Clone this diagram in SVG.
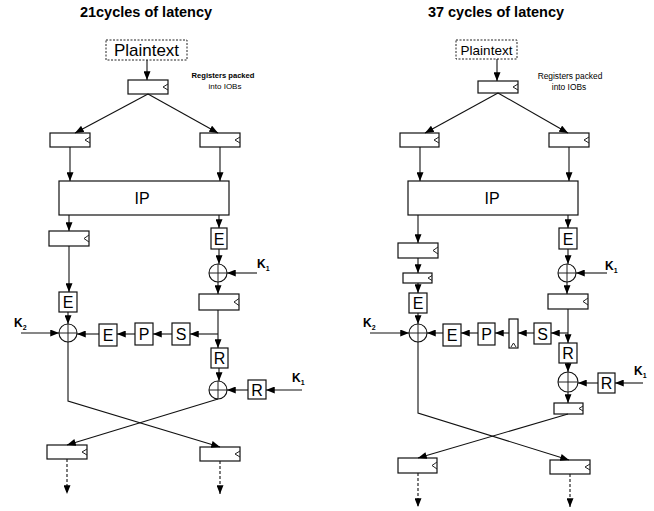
<svg xmlns="http://www.w3.org/2000/svg" width="654" height="511" viewBox="0 0 654 511">
<defs>
<marker id="ah" viewBox="0 0 10 8" refX="10" refY="4" markerWidth="9" markerHeight="7" markerUnits="userSpaceOnUse" orient="auto">
<path d="M0,0 L10,4 L0,8 z" fill="#000"/>
</marker>
<style>
.b{fill:#fff;stroke:#111;stroke-width:1.2}
.d{fill:#fff;stroke:#222;stroke-width:1;stroke-dasharray:2,1.5}
.c{fill:none;stroke:#111;stroke-width:1.1}
.k{fill:none;stroke:#222;stroke-width:1}
.cn line,.cn polyline{fill:none;stroke:#111;stroke-width:1.1;marker-end:url(#ah)}
.cn .n{marker-end:none}
.cn .ds{stroke-dasharray:3,2}
.t{font-family:"Liberation Sans",Arial,sans-serif;fill:#000}
.ttl{font-size:14.5px;font-weight:bold;text-anchor:middle}
.lb{font-size:16px;text-anchor:middle}
.k1{font-size:12px;font-weight:bold}
.sub{font-size:7px}
</style>
</defs>
<rect width="654" height="511" fill="#fff"/>

<!-- titles -->
<text class="t ttl" x="146" y="17">21cycles of latency</text>
<text class="t ttl" x="496" y="17">37 cycles of latency</text>

<!-- ================= LEFT ================= -->
<g id="L-plain"><rect class="d" x="106" y="40" width="81" height="20"/><text class="t" x="146.5" y="56" font-size="17" text-anchor="middle">Plaintext</text></g>
<g id="L-note"><text class="t" x="223" y="78" font-size="7.6" font-weight="bold" text-anchor="middle">Registers packed</text><text class="t" x="225" y="89" font-size="8" text-anchor="middle">into IOBs</text></g>
<g id="L-reg1"><rect class="b" x="128" y="80" width="40" height="14"/><polyline class="k" points="168,84 163,87 168,90"/></g>
<g id="L-reg2a"><rect class="b" x="50" y="133" width="40" height="14"/><polyline class="k" points="90,137 85,140 90,143"/></g>
<g id="L-reg2b"><rect class="b" x="200" y="133" width="40" height="14"/><polyline class="k" points="240,137 235,140 240,143"/></g>
<g id="L-IP"><rect class="b" x="59" y="181" width="170" height="34" stroke-width="1.5"/><text class="t lb" x="142" y="204">IP</text></g>
<g id="L-reg3"><rect class="b" x="49" y="231" width="40" height="15"/><polyline class="k" points="89,235 84,238.5 89,242"/></g>
<g id="L-E1"><rect class="b" x="211" y="228" width="16" height="21"/><text class="t lb" x="219" y="244.5">E</text></g>
<g id="L-X1"><circle class="c" cx="218" cy="273" r="9"/><line class="k" x1="209" y1="273" x2="227" y2="273"/><line class="k" x1="218" y1="264" x2="218" y2="282"/></g>
<g id="L-K1a"><text class="t k1" x="257" y="268">K<tspan class="sub" dy="3">1</tspan></text></g>
<g id="L-reg4"><rect class="b" x="199" y="294" width="40" height="16"/><polyline class="k" points="239,298.5 234,302 239,305.5"/></g>
<g id="L-S"><rect class="b" x="172" y="323" width="18" height="22"/><text class="t lb" x="181" y="340">S</text></g>
<g id="L-P"><rect class="b" x="135" y="323" width="18" height="22"/><text class="t lb" x="144" y="340">P</text></g>
<g id="L-E2"><rect class="b" x="99" y="324" width="18" height="22"/><text class="t lb" x="108" y="341">E</text></g>
<g id="L-E3"><rect class="b" x="59" y="292" width="18" height="20"/><text class="t lb" x="68" y="308">E</text></g>
<g id="L-X2"><circle class="c" cx="68" cy="333" r="9"/><line class="k" x1="59" y1="333" x2="77" y2="333"/><line class="k" x1="68" y1="324" x2="68" y2="342"/></g>
<g id="L-K2"><text class="t k1" x="14" y="327">K<tspan class="sub" dy="3">2</tspan></text></g>
<g id="L-R1"><rect class="b" x="211" y="348" width="17" height="20"/><text class="t lb" x="219.5" y="364">R</text></g>
<g id="L-X3"><circle class="c" cx="218" cy="390" r="9"/><line class="k" x1="209" y1="390" x2="227" y2="390"/><line class="k" x1="218" y1="381" x2="218" y2="399"/></g>
<g id="L-R2"><rect class="b" x="248" y="380" width="18" height="19"/><text class="t lb" x="257" y="396">R</text></g>
<g id="L-K1b"><text class="t k1" x="292" y="382">K<tspan class="sub" dy="3">1</tspan></text></g>
<g id="L-reg5a"><rect class="b" x="47" y="445" width="40" height="14"/><polyline class="k" points="87,449 82,452 87,455"/></g>
<g id="L-reg5b"><rect class="b" x="200" y="447" width="40" height="14"/><polyline class="k" points="240,451 235,454 240,457"/></g>

<!-- ================= RIGHT ================= -->
<g id="R-plain"><rect class="d" x="456" y="40" width="61" height="19"/><text class="t" x="486.5" y="55" font-size="13.5" text-anchor="middle">Plaintext</text></g>
<g id="R-note"><text class="t" x="570" y="79" font-size="8.4" text-anchor="middle">Registers packed</text><text class="t" x="569" y="90" font-size="8.4" text-anchor="middle">into IOBs</text></g>
<g id="R-reg1"><rect class="b" x="478" y="81" width="40" height="12"/><polyline class="k" points="518,84 513,87 518,90"/></g>
<g id="R-reg2a"><rect class="b" x="400" y="133" width="39" height="14"/><polyline class="k" points="439,137 434,140 439,143"/></g>
<g id="R-reg2b"><rect class="b" x="549" y="133" width="40" height="14"/><polyline class="k" points="589,137 584,140 589,143"/></g>
<g id="R-IP"><rect class="b" x="408" y="181" width="170" height="34"/><text class="t lb" x="492" y="204">IP</text></g>
<g id="R-reg3"><rect class="b" x="398" y="243" width="40" height="15"/><polyline class="k" points="438,247 433,250.5 438,254"/></g>
<g id="R-E1"><rect class="b" x="559" y="228" width="18" height="21" stroke-width="1.5"/><text class="t lb" x="568" y="244.5">E</text></g>
<g id="R-X1"><circle class="c" cx="567" cy="273" r="9"/><line class="k" x1="558" y1="273" x2="576" y2="273"/><line class="k" x1="567" y1="264" x2="567" y2="282"/></g>
<g id="R-K1a"><text class="t k1" x="605" y="270" font-weight="normal">K<tspan class="sub" dy="3">1</tspan></text></g>
<g id="R-reg4"><rect class="b" x="548" y="294" width="40" height="15"/><polyline class="k" points="588,298 583,301.5 588,305"/></g>
<g id="R-reg3s"><rect class="b" x="403" y="273" width="29" height="10"/><polyline class="k" points="432,275.5 428,278 432,280.5"/></g>
<g id="R-E3"><rect class="b" x="409" y="293" width="18" height="20"/><text class="t lb" x="418" y="309">E</text></g>
<g id="R-X2"><circle class="c" cx="418" cy="333" r="9"/><line class="k" x1="409" y1="333" x2="427" y2="333"/><line class="k" x1="418" y1="324" x2="418" y2="342"/></g>
<g id="R-K2"><text class="t k1" x="363" y="327" font-weight="normal">K<tspan class="sub" dy="3">2</tspan></text></g>
<g id="R-E2"><rect class="b" x="443" y="324" width="18" height="22"/><text class="t lb" x="452" y="341">E</text></g>
<g id="R-P"><rect class="b" x="478" y="323" width="17" height="22" stroke-width="1.5"/><text class="t lb" x="486.5" y="340">P</text></g>
<g id="R-vreg"><rect class="b" x="509" y="319" width="9" height="29"/><polyline class="k" points="511,347 513.5,343 516,347"/></g>
<g id="R-S"><rect class="b" x="534" y="323" width="17" height="21"/><text class="t lb" x="542.5" y="339.5">S</text></g>
<g id="R-R1"><rect class="b" x="559" y="343" width="18" height="20"/><text class="t lb" x="568" y="359">R</text></g>
<g id="R-X3"><circle class="c" cx="568" cy="382" r="10"/><line class="k" x1="558" y1="382" x2="578" y2="382"/><line class="k" x1="568" y1="372" x2="568" y2="392"/></g>
<g id="R-R2"><rect class="b" x="598" y="373" width="17" height="20"/><text class="t lb" x="606.5" y="389">R</text></g>
<g id="R-K1b"><text class="t k1" x="634" y="375" font-weight="normal">K<tspan class="sub" dy="3">1</tspan></text></g>
<g id="R-reg6"><rect class="b" x="554" y="403" width="29" height="11"/><polyline class="k" points="583,406 579,408.5 583,411"/></g>
<g id="R-reg5a"><rect class="b" x="398" y="458" width="39" height="15"/><polyline class="k" points="437,462 432,465.5 437,469"/></g>
<g id="R-reg5b"><rect class="b" x="550" y="460" width="40" height="14"/><polyline class="k" points="590,464 585,467 590,470"/></g>

<!-- ================= CONNECTORS ================= -->
<g id="connectors" class="cn">
<!-- left -->
<line x1="147" y1="60" x2="147" y2="80" stroke-width="1.6"/>
<line x1="148" y1="94" x2="75" y2="133"/>
<line x1="148" y1="94" x2="218" y2="133"/>
<line x1="70" y1="147" x2="70" y2="181" stroke-width="1.4"/>
<line x1="220" y1="147" x2="220" y2="181" stroke-width="1.4"/>
<line x1="69" y1="215" x2="69" y2="231" stroke-width="1.4"/>
<line x1="219" y1="215" x2="219" y2="228"/>
<line x1="219" y1="249" x2="219" y2="264"/>
<line x1="257" y1="273" x2="227" y2="273"/>
<line x1="218" y1="282" x2="218" y2="294"/>
<line x1="218" y1="310" x2="218" y2="348"/>
<line x1="218" y1="334" x2="190" y2="334"/>
<line x1="172" y1="334" x2="153" y2="334"/>
<line x1="135" y1="334" x2="117" y2="334"/>
<line x1="99" y1="334" x2="77" y2="334"/>
<line x1="21" y1="333" x2="59" y2="333"/>
<line x1="69" y1="246" x2="69" y2="292" stroke-width="1.5"/>
<line x1="68" y1="312" x2="68" y2="324"/>
<line x1="219" y1="368" x2="219" y2="381"/>
<line x1="302" y1="390" x2="266" y2="390"/>
<line x1="248" y1="390" x2="227" y2="390"/>
<polyline points="68,342 68,401 220,447"/>
<line x1="218" y1="399" x2="67" y2="445"/>
<line class="ds" x1="67" y1="459" x2="67" y2="494"/>
<line class="ds" x1="220" y1="461" x2="220" y2="494"/>
<!-- right -->
<line x1="497" y1="59" x2="497" y2="81" stroke-width="1.5"/>
<line x1="498" y1="93" x2="425" y2="133"/>
<line x1="498" y1="93" x2="568" y2="133"/>
<line x1="420" y1="147" x2="420" y2="181" stroke-width="1.4"/>
<line x1="569" y1="147" x2="569" y2="181"/>
<line x1="418" y1="215" x2="418" y2="243"/>
<line x1="568" y1="215" x2="568" y2="228"/>
<line x1="568" y1="249" x2="568" y2="264"/>
<line x1="607" y1="273" x2="576" y2="273"/>
<line x1="567" y1="282" x2="567" y2="294" stroke-width="1.5"/>
<line x1="568" y1="309" x2="568" y2="343"/>
<line x1="568" y1="333" x2="551" y2="333"/>
<line x1="534" y1="333" x2="518" y2="333"/>
<line x1="509" y1="333" x2="495" y2="333"/>
<line x1="478" y1="333" x2="461" y2="333"/>
<line x1="443" y1="333" x2="427" y2="333"/>
<line x1="370" y1="333" x2="409" y2="333"/>
<line x1="418" y1="258" x2="418" y2="273"/>
<line x1="418" y1="283" x2="418" y2="293"/>
<line x1="418" y1="313" x2="418" y2="324"/>
<line x1="568" y1="363" x2="568" y2="372"/>
<line x1="643" y1="383" x2="615" y2="383"/>
<line x1="598" y1="383" x2="578" y2="383"/>
<line x1="568" y1="392" x2="568" y2="403"/>
<polyline points="418,342 418,413 569,460" stroke-width="1.3"/>
<line x1="568" y1="414" x2="418" y2="458"/>
<line class="ds" x1="418" y1="473" x2="418" y2="507"/>
<line class="ds" x1="570" y1="474" x2="570" y2="507"/>
</g>
</svg>
